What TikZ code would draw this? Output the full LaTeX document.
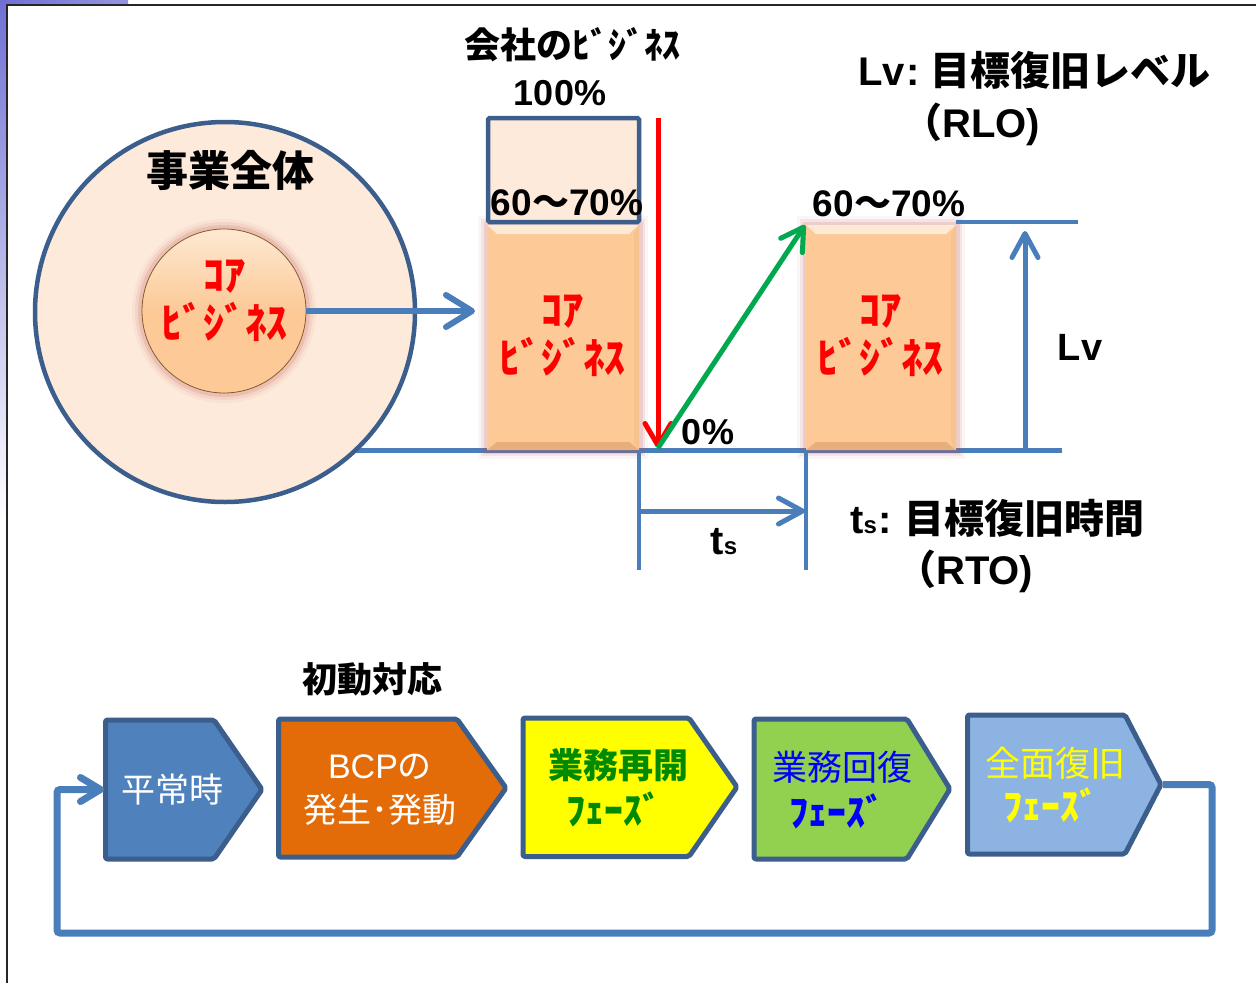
\documentclass[tikz,border=0pt]{standalone}
\usepackage{fontspec}
\setmainfont{Liberation Sans}
\newfontfamily\jp{Noto Sans CJK JP}
\usetikzlibrary{arrows.meta}
\definecolor{peach}{HTML}{FDEADA}
\definecolor{coreor}{HTML}{FCC997}
\definecolor{corehi}{HTML}{FEE9D2}
\definecolor{corelo}{HTML}{E8AE7C}
\definecolor{dblue}{HTML}{3B5E8C}
\definecolor{lblue}{HTML}{4A7EBB}
\definecolor{cA}{HTML}{4F81BD}
\definecolor{cB}{HTML}{E36C09}
\definecolor{cC}{HTML}{FFFF00}
\definecolor{cD}{HTML}{92D050}
\definecolor{cE}{HTML}{8DB3E2}
\definecolor{gtxt}{HTML}{008A00}
\definecolor{purp}{HTML}{7070D4}
\definecolor{agreen}{HTML}{00A84F}
\definecolor{glowc}{HTML}{C0504D}
\newcommand{\sz}[2]{\fontsize{#1}{#2}\selectfont}
\newcommand{\corebar}[3]{%
  \foreach \w/\o in {18/0.06,12/0.1,7/0.16}{\draw[glowc,line width=\w,opacity=\o] (#1,225) rectangle (#2,450);}
  \node[fill=coreor,minimum width=#2-#1,minimum height=225,inner sep=0,outer sep=0,anchor=north west] (#3) at (#1,225) {};
  \fill[corehi] (#1,225) -- (#2,225) -- (#2-10,234) -- (#1+10,234) -- cycle;
  \fill[corelo] (#1,450) -- (#2,450) -- (#2-10,442) -- (#1+10,442) -- cycle;
  \fill[coreor!90!brown] (#2,225) -- (#2,450) -- (#2-5,442) -- (#2-5,234) -- cycle;
}
\begin{document}
\begin{tikzpicture}[x=1pt,y=-1pt,
  barb/.style={-{Straight Barb[length=22pt,width=26pt,round]}},
  bline/.style={draw=lblue,line width=5},
  chev/.style={draw=dblue,line width=5,rounded corners=2,line join=round},
  coretxt/.style={align=center,text=red,font=\jp\bfseries\sz{42}{48},inner sep=0},
  bk/.style={inner sep=0,text=black},
  chevtxt/.style={inner sep=0,align=center,font=\jp\sz{34}{44}},
  ftxt/.style={inner sep=0,font=\jp\bfseries\sz{38}{38}}
]
\useasboundingbox (0,0) rectangle (1256,983);
% frame
\shade[left color=purp,right color=purp!75] (0,0) rectangle (128,5);
\shade[top color=purp,bottom color=white] (0,0) rectangle (6,520);
\draw[line width=2,black!85] (6.5,983) -- (6.5,4.5) -- (1256,4.5);

% baseline
\coordinate (b0) at (300,450);
\coordinate (b1) at (1062,450);
\draw[bline] (b0) -- (b1);

% outer circle
\node[circle,draw=dblue,line width=4.5,fill=peach,minimum size=380,inner sep=0] (biz) at (225,312) {};
\node[bk,font=\jp\bfseries\sz{42}{42}] (biztxt) at (230,170) {事業全体};
% core circle
\foreach \w/\o in {20/0.05,14/0.09,8/0.15}{\draw[glowc,line width=\w,opacity=\o] (224,311) circle (82);}
\node[circle,minimum size=164,inner sep=0,top color=corehi,bottom color=coreor,middle color=coreor,draw=brown!70!black,line width=0.8] (core) at (224,311) {};
\node[coretxt] (coretxt) at (224,301) {ｺｱ\\ﾋﾞｼﾞﾈｽ};

% bars
\corebar{487}{639}{bar1}
\corebar{806}{956}{bar2}
\node[coretxt] (bar1t) at (562,336) {ｺｱ\\ﾋﾞｼﾞﾈｽ};
\node[coretxt] (bar2t) at (880,336) {ｺｱ\\ﾋﾞｼﾞﾈｽ};
\node[draw=dblue,fill=peach,line width=4.5,minimum width=151,minimum height=104,inner sep=0,rounded corners=1.5] (full) at (563.5,170) {};

% core arrow
\draw[lblue,line width=6,-{Straight Barb[length=26pt,width=32pt,round]}] (core.east) -- ([xshift=-12pt]core.east -| bar1.west);

% labels top
\node[bk,font=\jp\bfseries\sz{36}{36}] (cotxt) at (572,45) {会社のﾋﾞｼﾞﾈｽ};
\node[bk,font=\bfseries\sz{36}{36}] (p100) at (560,93) {100\%};
\node[bk,font=\bfseries\sz{37}{37}] (p60a) at (567,203) {60{\jp ～}70\%};
\node[bk,font=\bfseries\sz{37}{37}] (p60b) at (889,204) {60{\jp ～}70\%};
\node[bk,font=\bfseries\sz{36}{36}] (p0) at (708,432) {0\%};

% red and green arrows
\coordinate (rtop) at (658,118);
\coordinate (rbot) at (658,448);
\coordinate (gend) at (805,225);
\draw[red,line width=5,barb] (rtop) -- (rbot);
\draw[agreen,line width=5,barb] (rbot) -- (gend);

% time span
\coordinate (v1a) at (639,450);
\coordinate (v1b) at (639,570);
\coordinate (v2a) at (806,450);
\coordinate (v2b) at (806,570);
\draw[lblue,line width=4] (v1a) -- (v1b);
\draw[lblue,line width=4] (v2a) -- (v2b);
\coordinate (ts0) at (639,511);
\coordinate (ts1) at (805,511);
\draw[lblue,line width=5,-{Straight Barb[length=24pt,width=26pt,round]}] (ts0) -- (ts1);
\node[bk,font=\bfseries\sz{40}{40},anchor=base] (tslbl) at (724,554) {t{\sz{24}{24}s}};

% level
\coordinate (lt0) at (956,222);
\coordinate (lt1) at (1078,222);
\draw[lblue,line width=3.5] (lt0) -- (lt1);
\coordinate (lv0) at (1025,450);
\coordinate (lv1) at (1025,231);
\draw[lblue,line width=5,-{Straight Barb[length=24pt,width=26pt,round]}] (lv0) -- (lv1);
\node[bk,font=\bfseries\sz{38}{38}] (lvlbl) at (1080,347) {Lv};

% right titles
\node[bk,anchor=west,font=\bfseries\sz{40}{40}] (rlo1) at (858,70) {Lv\hspace{2pt}:\hspace{10pt}{\jp 目標復旧レベル}};
\node[bk,anchor=west,font=\bfseries\sz{40}{40}] (rlo2) at (902,124) {{\jp （}RLO)};
\node[bk,anchor=west,font=\bfseries\sz{40}{40}] (rto1) at (850,518) {t{\sz{24}{24}s}\hspace{2pt}:\hspace{12pt}{\jp 目標復旧時間}};
\node[bk,anchor=west,font=\bfseries\sz{40}{40}] (rto2) at (896,571) {{\jp （}RTO)};

% bottom flow
\node[bk,font=\jp\bfseries\sz{35}{35}] (shodo) at (372,679) {初動対応};
\draw[chev,fill=cA] (105.5,720) -- (214,720) -- (262,789.5) -- (214,859) -- (105.5,859) -- cycle;
\draw[chev,fill=cB] (278.5,719) -- (457,719) -- (506,788) -- (457,857) -- (278.5,857) -- cycle;
\draw[chev,fill=cC] (523,718) -- (689,718) -- (737,787) -- (689,856.5) -- (523,856.5) -- cycle;
\draw[chev,fill=cD] (754,719) -- (907,719) -- (950,789) -- (907,859) -- (754,859) -- cycle;
\draw[chev,fill=cE] (967.5,715) -- (1125,715) -- (1161,784.5) -- (1125,854) -- (967.5,854) -- cycle;

\node[chevtxt,text=white] (n1) at (172,790) {平常時};
\node[chevtxt,text=white,font=\sz{34}{44}] (n2) at (380,790) {BCP{\jp の}\\{\jp 発生･発動}};
\node[chevtxt,text=gtxt,font=\jp\bfseries\sz{35}{35}] (n3a) at (618,765) {業務再開};
\node[ftxt,text=gtxt] (n3b) at (614,809) {ﾌｪｰｽﾞ};
\node[chevtxt,text=blue,font=\jp\sz{35}{35}] (n4a) at (842,767) {業務回復};
\node[ftxt,text=blue] (n4b) at (837,811) {ﾌｪｰｽﾞ};
\node[chevtxt,text=cC,font=\jp\sz{35}{35}] (n5a) at (1055,763) {全面復旧};
\node[ftxt,text=cC] (n5b) at (1051,805) {ﾌｪｰｽﾞ};

% loop back
\coordinate (c5tip) at (1163,784.5);
\coordinate (lp1) at (1212,784.5);
\coordinate (lp2) at (1212,933);
\coordinate (lp3) at (57,933);
\coordinate (lp4) at (57,789.5);
\coordinate (c1w) at (104,789.5);
\draw[lblue,line width=7,rounded corners=3,-{Straight Barb[length=20pt,width=24pt,round]}] (c5tip) -- (lp1) -- (lp2) -- (lp3) -- (lp4) -- (c1w);
\end{tikzpicture}
\end{document}
